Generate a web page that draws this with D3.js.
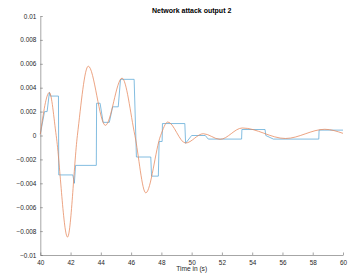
<!DOCTYPE html>
<html>
<head>
<meta charset="utf-8">
<script src="https://cdn.jsdelivr.net/npm/d3@7"></script>
<style>
  body { margin: 0; background: #fff; }
  svg { display: block; font-family: "Liberation Sans", Arial, sans-serif; }
  .tick text { fill: #262626; font-size: 6.4px; }
  .domain, .tick line { stroke: #6a6a6a; stroke-width: 0.6; }
</style>
</head>
<body>
<svg id="chart" width="353" height="280"></svg>
<script>
// sampled (held) signal seen over the network
const heldTime = [40.0, 40.28, 40.45, 40.6, 40.66, 41.2, 41.22, 42.15, 42.25, 42.33, 43.7, 43.72, 43.95, 44.15,
  44.56, 44.78, 45.15, 45.3, 46.2, 46.35, 47.3, 47.35, 47.8, 47.85, 48.05, 48.07, 49.55, 49.6,
  50.0, 50.9, 51.1, 53.3, 53.32, 54.85, 54.9, 55.4, 58.4, 58.42, 60.0];
const heldValue = [0.0001, 0.002, 0.002, 0.0036, 0.0033, 0.0033, -0.0033, -0.0033, -0.004, -0.0025, -0.0025, 0.0027, 0.0027, 0.0011,
  0.0011, 0.0024, 0.0024, 0.0047, 0.0047, -0.0018, -0.0018, -0.0034, -0.0034, -0.0005, -0.0005, 0.001, 0.001, -0.00065,
  0.0, 0.0, -0.0003, -0.0003, 0.0005, 0.0005, 0.0, -0.0003, -0.0003, 0.00045, 0.00045];

// continuous plant output
const outTime = [40.0, 40.6, 41.05, 41.8, 42.45, 43.17, 44.3, 45.4, 46.25, 46.97, 47.95, 48.42,
  49.6, 50.77, 51.88, 53.35, 56.2, 58.8, 60.0];
const outValue = [0.0001, 0.0036, 0.0, -0.0085, 0.0, 0.0058, 0.00085, 0.0048, 0.0, -0.0048, 0.0, 0.00113,
  -0.00063, 0.00015, -0.00032, 0.00063, -0.00025, 0.00052, 0.00018];

const xTicks = [40, 42, 44, 46, 48, 50, 52, 54, 56, 58, 60];
const yTicks = [-0.01, -0.008, -0.006, -0.004, -0.002, 0, 0.002, 0.004, 0.006, 0.008, 0.01];

const margin = { top: 16, right: 10, bottom: 25, left: 40.3 };
const svg = d3.select('#chart');

const x = d3.scaleLinear().domain([40, 60]).range([0, 302.7]);
const y = d3.scaleLinear().domain([-0.01, 0.01]).range([239, 0]);

const g = svg.append('g').attr('transform', `translate(${margin.left},${margin.top})`);

g.append('g')
  .attr('transform', `translate(0,${y(-0.01)})`)
  .call(d3.axisBottom(x).tickValues(xTicks).tickSize(-2.5).tickPadding(4).tickSizeOuter(0))
  .selectAll('.tick text').attr('dy', '0.9em');

g.append('g')
  .call(d3.axisLeft(y).tickValues(yTicks).tickSize(-2.5).tickPadding(4).tickSizeOuter(0)
    .tickFormat(d => d === 0 ? '0' : d3.format('~g')(+d.toFixed(4))));

const held = heldTime.map((t, i) => [t, heldValue[i]]);
const out = outTime.map((t, i) => [t, outValue[i]]);

g.append('path')
  .datum(held)
  .attr('fill', 'none')
  .attr('stroke', '#5aa7d6')
  .attr('stroke-width', 0.75)
  .attr('d', d3.line().x(d => x(d[0])).y(d => y(d[1])));

g.append('path')
  .datum(out)
  .attr('fill', 'none')
  .attr('stroke', '#e5865a')
  .attr('stroke-width', 0.75)
  .attr('d', d3.line().curve(d3.curveMonotoneX).x(d => x(d[0])).y(d => y(d[1])));

svg.append('text')
  .attr('x', margin.left + x(50))
  .attr('y', 12.5)
  .attr('text-anchor', 'middle')
  .attr('font-size', 7)
  .attr('font-weight', 'bold')
  .attr('fill', '#000')
  .text('Network attack output 2');

svg.append('text')
  .attr('x', margin.left + x(50))
  .attr('y', margin.top + y(-0.01) + 16)
  .attr('text-anchor', 'middle')
  .attr('font-size', 6.6)
  .attr('fill', '#262626')
  .text('Time in (s)');
</script>
</body>
</html>
